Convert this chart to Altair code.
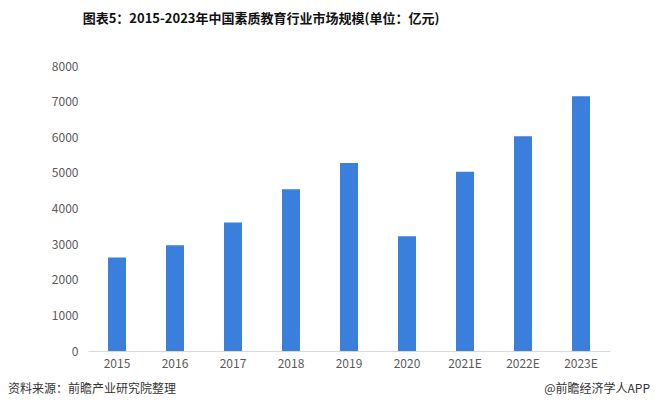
import altair as alt
import pandas as pd

years = ["2015", "2016", "2017", "2018", "2019", "2020", "2021E", "2022E", "2023E"]
values = [2625, 2970, 3605, 4540, 5275, 3220, 5035, 6030, 7150]
y_ticks = [0, 1000, 2000, 3000, 4000, 5000, 6000, 7000, 8000]

title_text = "图表5：2015-2023年中国素质教育行业市场规模(单位：亿元)"
source_text = "资料来源：前瞻产业研究院整理"
brand_text = "@前瞻经济学人APP"

df = pd.DataFrame({"year": years, "value": values})
FONT = "Noto Sans CJK SC"
W, H = 522, 285

bars = alt.Chart(df).mark_bar(color="#3A7FDB").encode(
    x=alt.X("year:N", sort=years, title=None,
            scale=alt.Scale(paddingInner=0.69, paddingOuter=0.345),
            axis=alt.Axis(labelAngle=0, ticks=False, domainColor="#D9D9D9",
                          labelColor="#595959", labelFontSize=12, labelFont=FONT,
                          labelPadding=7)),
    y=alt.Y("value:Q", title=None,
            scale=alt.Scale(domain=[0, 8000], nice=False),
            axis=alt.Axis(values=y_ticks, format="d", grid=False, domain=False, ticks=False,
                          labelColor="#595959", labelFontSize=12, labelFont=FONT,
                          labelPadding=10)),
)

notes = pd.DataFrame({"t": [source_text]})
left_note = alt.Chart(notes).mark_text(align="left", baseline="middle", fontSize=12,
                                       font=FONT, color="#333333").encode(
    x=alt.value(-80), y=alt.value(H + 38), text="t:N")
right_df = pd.DataFrame({"t": [brand_text]})
right_note = alt.Chart(right_df).mark_text(align="right", baseline="middle", fontSize=12,
                                           font=FONT, color="#333333").encode(
    x=alt.value(W + 40), y=alt.value(H + 38), text="t:N")

chart = alt.layer(bars, left_note, right_note).properties(
    width=W, height=H,
    background="white",
    title=alt.TitleParams(title_text, anchor="middle", dx=-88, offset=34,
                          fontSize=13, font=FONT, fontWeight="bold", color="#111111"),
    autosize=alt.AutoSizeParams(type="none"),
    padding={"left": 80, "top": 58, "right": 42, "bottom": 47},
).configure_view(stroke=None, strokeWidth=0)

chart.save("out.html", embed_options={"renderer": "svg", "actions": False})
